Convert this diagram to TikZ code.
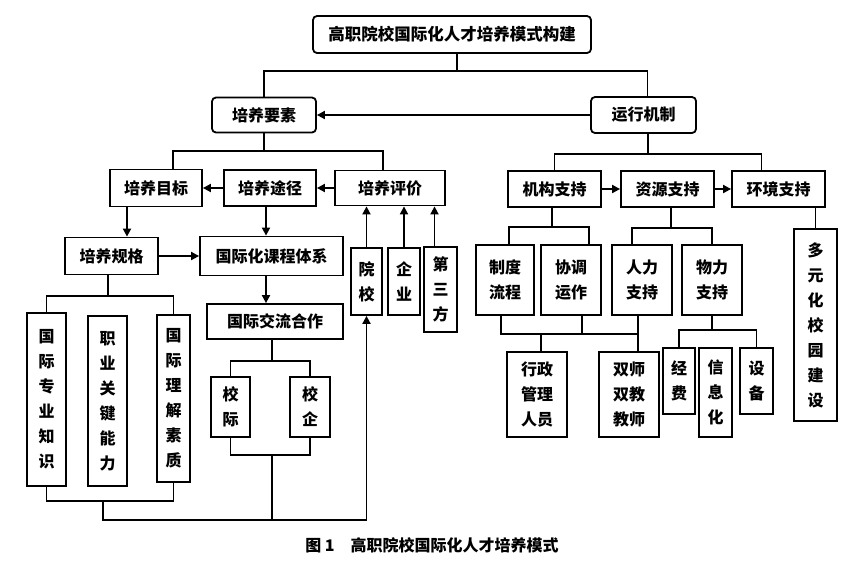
\documentclass[tikz,border=0pt]{standalone}
\usepackage{fontspec}
\setmainfont{Noto Sans CJK SC}
\usepackage{tikz}
\usetikzlibrary{arrows.meta,positioning,calc}

\begin{document}
\begin{tikzpicture}[x=1pt, y=-1pt, line width=1.8pt,
  box/.style={draw, inner sep=0pt, align=center, font=\bfseries\fontsize{16}{25}\selectfont},
  rbox/.style={box, rounded corners=4pt},
  sz/.style 2 args={minimum width=#1pt, minimum height=#2pt},
  arr/.style={-{Triangle[length=8pt,width=8pt]}}]
\useasboundingbox (0,0) rectangle (867,571);

% top levels
\node[rbox, sz={278}{37}, font=\bfseries\fontsize{16.5}{20}\selectfont] (top) at (452,34.5) {高职院校国际化人才培养模式构建};
\node[rbox, sz={104}{35}] (yaosu) at (264,115) {培养要素};
\node[rbox, sz={105}{36}] (jizhi) at (643.5,115) {运行机制};

% training side
\node[box, sz={92}{37}] (mubiao) at (156,188) {培养目标};
\node[box, sz={92}{36}] (tujing) at (270,188) {培养途径};
\node[box, sz={110}{35}] (pingjia) at (390,188) {培养评价};
\node[box, sz={93}{37}] (guige) at (111.5,256) {培养规格};
\node[box, sz={143}{39}] (kecheng) at (271.5,256) {国际化课程体系};
\node[box, sz={136}{35}] (jiaoliu) at (275,321.5) {国际交流合作};
\node[box, sz={39}{173}] (zhishi) at (46.5,399.5) {国\\际\\专\\业\\知\\识};
\node[box, sz={39}{170}] (nengli) at (107.5,401) {职\\业\\关\\键\\能\\力};
\node[box, sz={33}{167}] (suzhi) at (173.5,398.5) {国\\际\\理\\解\\素\\质};
\node[box, sz={39}{60}] (xiaoji) at (230.5,407) {校\\际};
\node[box, sz={40}{60}] (xiaoqi) at (310,407) {校\\企};
\node[box, sz={31}{67}] (yuanxiao) at (366.5,281.5) {院\\校};
\node[box, sz={32}{67}] (qiye) at (404,281.5) {企\\业};
\node[box, sz={33}{85}] (disanfang) at (440.5,289.5) {第\\三\\方};

% mechanism side
\node[box, sz={93}{36}] (jigou) at (554.5,189) {机构支持};
\node[box, sz={93}{36}] (ziyuan) at (667.5,189) {资源支持};
\node[box, sz={93}{36}] (huanjing) at (778.5,189) {环境支持};
\node[box, sz={58}{70}] (zhidu) at (505,280) {制度\\流程};
\node[box, sz={60}{70}] (xietiao) at (571,280) {协调\\运作};
\node[box, sz={60}{70}] (renli) at (642,280) {人力\\支持};
\node[box, sz={60}{70}] (wuli) at (712,280) {物力\\支持};
\node[box, sz={43}{192}] (duoyuan) at (815.5,325) {多\\元\\化\\校\\园\\建\\设};
\node[box, sz={60}{85}] (xingzheng) at (537,394.5) {行政\\管理\\人员};
\node[box, sz={60}{85}] (shuangshi) at (629,394.5) {双师\\双教\\教师};
\node[box, sz={32}{66}] (jingfei) at (679,381) {经\\费};
\node[box, sz={33}{89}] (xinxi) at (715.5,392.5) {信\\息\\化};
\node[box, sz={33}{66}] (shebei) at (756.5,381) {设\\备};

% junction points
\coordinate (j0) at (457,71);
\coordinate (jY) at (264,151);
\coordinate (jG) at (108,296);
\coordinate (jT) at (272,361);
\coordinate (jL) at (103,501);
\coordinate (jR) at (272,455);
\coordinate (jB) at (103,520);
\coordinate (jJ) at (648,154);
\coordinate (jA) at (552,227);
\coordinate (jS) at (671,228);
\coordinate (jC) at (541,334);
\coordinate (jD) at (712,330);

% top tree
\draw (top.south -| j0) -- (j0);
\draw (yaosu.north) |- (j0) -| ([xshift=4]jizhi.north);
\draw[arr] (jizhi.west) -- (jizhi.west -| yaosu.east);

% training elements
\draw (yaosu.south) -- (jY);
\draw ([xshift=17]mubiao.north) |- (jY) -| ([xshift=-7]pingjia.north);
\draw[arr] (tujing.west) -- (tujing.west -| mubiao.east);
\draw[arr] (pingjia.west) -- (pingjia.west -| tujing.east);
\draw[arr] ([xshift=-29]mubiao.south) -- ([xshift=-29]mubiao.south |- guige.north);
\draw[arr] ([xshift=-4]tujing.south) -- ([xshift=-4]tujing.south |- kecheng.north);
\draw[arr] (guige.east) -- (guige.east -| kecheng.west);
\draw[arr] ([xshift=-5.5]kecheng.south) -- ([xshift=-5.5]kecheng.south |- jiaoliu.north);
\draw (guige.south -| jG) -- (jG);
\draw (zhishi.north) |- (jG) -| (suzhi.north);
\draw (jiaoliu.south -| jT) -- (jT);
\draw (xiaoji.north) |- (jT) -| (xiaoqi.north);
\draw (zhishi.south) |- (jL) -| (suzhi.south);
\draw (xiaoji.south) |- (jR) -| (xiaoqi.south);
\draw (jR) -- (jR |- jB);
\draw[arr] (jL) -- (jB) -| (yuanxiao.south);
\draw[arr] (yuanxiao.north) -- (yuanxiao.north |- pingjia.south);
\draw[arr] (qiye.north) -- (qiye.north |- pingjia.south);
\draw[arr] ([xshift=-6]disanfang.north) -- ([xshift=-6]disanfang.north |- pingjia.south);

% operating mechanism
\draw (jizhi.south -| jJ) -- (jJ);
\draw (jigou.north) |- (jJ) -| ([xshift=-17]huanjing.north);
\draw[arr] (jigou.east) -- (jigou.east -| ziyuan.west);
\draw[arr] (ziyuan.east) -- (ziyuan.east -| huanjing.west);
\draw (jigou.south -| jA) -- (jA);
\draw ([xshift=4]zhidu.north) |- (jA) -| ([xshift=18]xietiao.north);
\draw (ziyuan.south -| jS) -- (jS);
\draw ([xshift=-10]renli.north) |- (jS) -| (wuli.north);
\draw (duoyuan.north) -- (duoyuan.north |- huanjing.south);
\draw ([xshift=-4]zhidu.south) |- (jC) -| ([xshift=-4]renli.south);
\draw ([xshift=11]xietiao.south) -- ([xshift=11]xietiao.south |- jC);
\draw (jC) -- (jC |- xingzheng.north);
\draw ([xshift=-4]renli.south) -- ([xshift=-4]renli.south |- shuangshi.north);
\draw (wuli.south) -- (jD);
\draw (jingfei.north) |- (jD) -| (shebei.north);

% caption
\node[font=\bfseries\fontsize{16}{18}\selectfont] (caption) at (432,545) {图 1\quad 高职院校国际化人才培养模式};
\end{tikzpicture}
\end{document}
